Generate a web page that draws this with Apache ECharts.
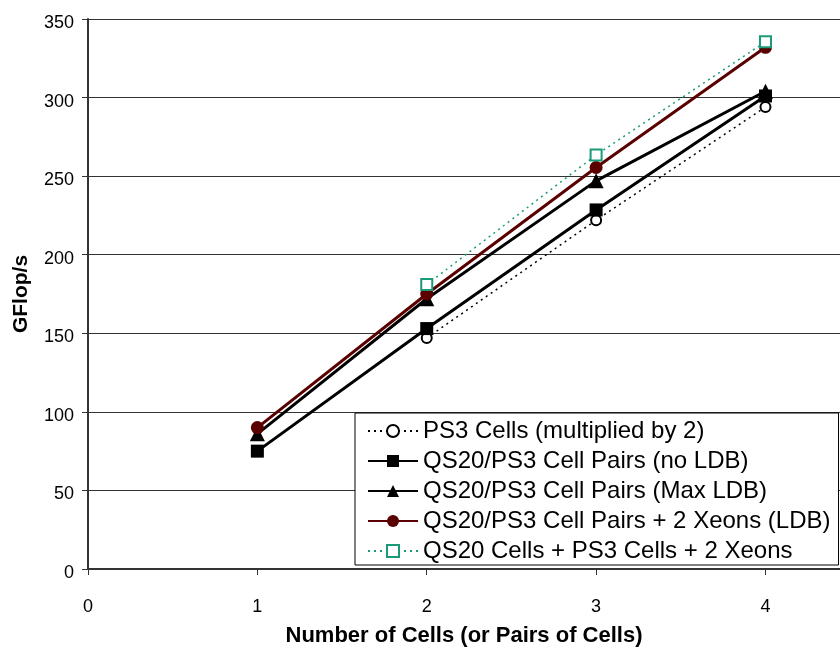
<!DOCTYPE html>
<html><head><meta charset="utf-8">
<script src="https://cdn.jsdelivr.net/npm/echarts@6/dist/echarts.min.js"></script>
<style>html,body{margin:0;padding:0;background:#fff}#c{width:840px;height:652px}</style>
</head><body><div id="c"></div>
<script>
const xValues = [1, 2, 3, 4];
const ps3Cells = [null, 147, 222, 294];
const pairsNoLdb = [75, 153, 228.5, 301];
const pairsMaxLdb = [86, 172, 247, 304];
const pairsXeons = [90, 175, 255.5, 332];
const qs20Ps3Xeons = [null, 181, 263.5, 335.5];
const seriesNames = [
  'PS3 Cells (multiplied by 2)',
  'QS20/PS3 Cell Pairs (no LDB)',
  'QS20/PS3 Cell Pairs (Max LDB)',
  'QS20/PS3 Cell Pairs + 2 Xeons (LDB)',
  'QS20 Cells + PS3 Cells + 2 Xeons'
];
const pairs = arr => xValues.map((x, i) => [x, arr[i]]);
const font = 'Liberation Sans, Arial, sans-serif';
const chart = echarts.init(document.getElementById('c'));
chart.setOption({
  animation: false,
  grid: {left: 88, right: 0, top: 19, bottom: 77},
  xAxis: {
    type: 'value', min: 0, max: 4.44, interval: 1,
    name: 'Number of Cells (or Pairs of Cells)', nameLocation: 'middle', nameGap: 56,
    nameTextStyle: {fontFamily: font, fontWeight: 'bold', fontSize: 22, color: '#000'},
    axisLine: {lineStyle: {color: '#333', width: 2}},
    axisTick: {length: 6, lineStyle: {color: '#333', width: 1}},
    axisLabel: {fontFamily: font, fontSize: 18, color: '#000', margin: 29, showMaxLabel: false},
    splitLine: {show: false}
  },
  yAxis: {
    type: 'value', min: 0, max: 350, interval: 50,
    name: 'GFlop/s', nameLocation: 'middle', nameGap: 56,
    nameTextStyle: {fontFamily: font, fontWeight: 'bold', fontSize: 21, color: '#000'},
    axisLine: {show: true, lineStyle: {color: '#333', width: 2}},
    axisTick: {show: true, length: 6, lineStyle: {color: '#333'}},
    axisLabel: {fontFamily: font, fontSize: 18, color: '#000', margin: 14, verticalAlign: 'top', lineHeight: 8},
    splitLine: {show: true, lineStyle: {color: '#333', width: 1}}
  },
  legend: {
    orient: 'vertical', left: 355, top: 413,
    backgroundColor: '#fff', borderColor: '#000', borderWidth: 1,
    padding: [6, 8, 2, 12],
    itemWidth: 50, itemHeight: 15, itemGap: 6,
    textStyle: {fontFamily: font, fontSize: 24, lineHeight: 24, color: '#000'},
    data: seriesNames
  },
  series: [
    {name: seriesNames[0], type: 'line', data: pairs(ps3Cells), connectNulls: false,
     symbol: 'circle', symbolSize: 10,
     lineStyle: {color: '#000', width: 1.5, type: [2, 4]},
     itemStyle: {color: '#fff', borderColor: '#000', borderWidth: 2}},
    {name: seriesNames[1], type: 'line', data: pairs(pairsNoLdb),
     symbol: 'rect', symbolSize: 13,
     lineStyle: {color: '#000', width: 3},
     itemStyle: {color: '#000'}},
    {name: seriesNames[2], type: 'line', data: pairs(pairsMaxLdb),
     symbol: 'triangle', symbolSize: 15,
     lineStyle: {color: '#000', width: 3},
     itemStyle: {color: '#000'}},
    {name: seriesNames[3], type: 'line', data: pairs(pairsXeons),
     symbol: 'circle', symbolSize: 13,
     lineStyle: {color: '#5a0000', width: 3},
     itemStyle: {color: '#5a0000'}},
    {name: seriesNames[4], type: 'line', data: pairs(qs20Ps3Xeons),
     symbol: 'rect', symbolSize: 11,
     lineStyle: {color: '#1a9a78', width: 1.5, type: [2, 4]},
     itemStyle: {color: '#fff', borderColor: '#1a9a78', borderWidth: 2}}
  ]
});
</script></body></html>
